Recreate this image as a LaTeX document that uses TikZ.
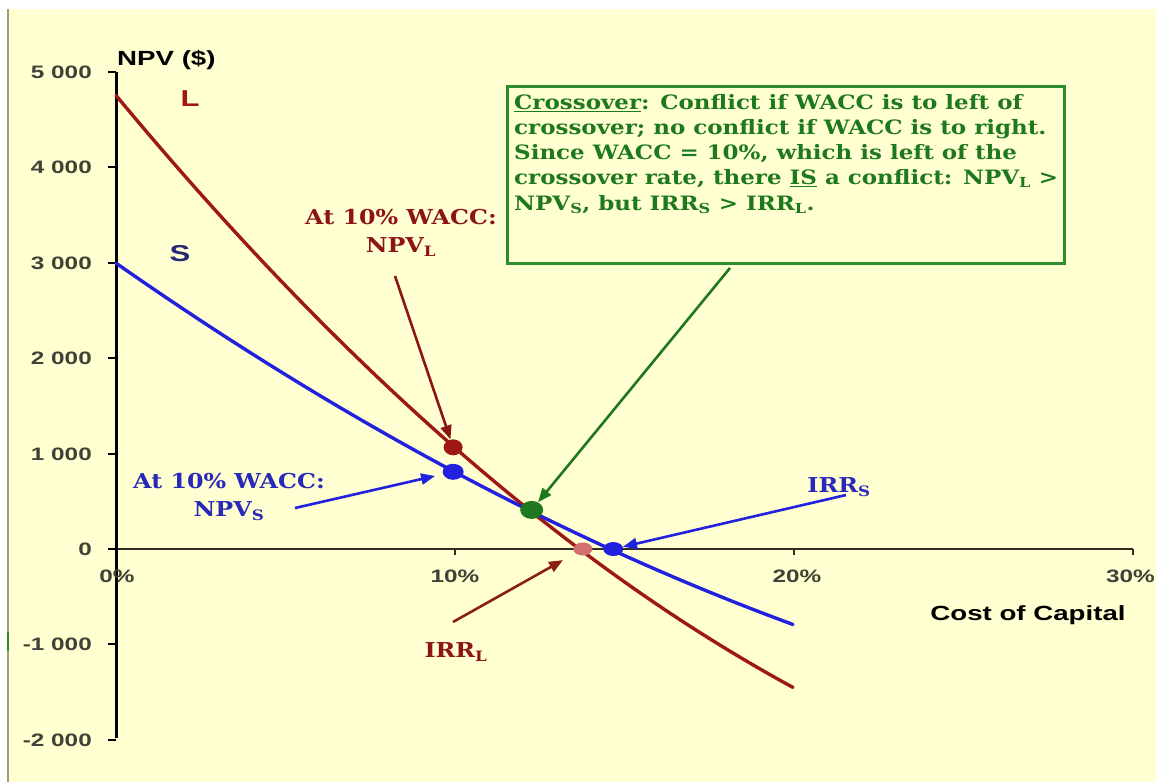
\documentclass[tikz,border=0pt]{standalone}
\usepackage{fontspec}
\setmainfont{DejaVu Serif}
\newfontfamily\axfont[FakeStretch=1.35]{Liberation Sans}
\newfontfamily\notefont[FakeStretch=1.16]{DejaVu Serif}
\usetikzlibrary{arrows.meta,shapes.geometric}
\definecolor{bg}{RGB}{255,255,210}
\definecolor{edge}{RGB}{165,155,120}
\definecolor{lred}{RGB}{158,24,24}
\definecolor{sblue}{RGB}{34,34,222}
\definecolor{tblue}{RGB}{40,40,185}
\definecolor{navy}{RGB}{40,40,120}
\definecolor{tred}{RGB}{140,20,20}
\definecolor{ngreen}{RGB}{30,120,30}
\definecolor{bgreen}{RGB}{45,140,45}
\definecolor{tick}{RGB}{65,65,55}
\definecolor{xaxis}{RGB}{50,45,30}
\definecolor{pink}{RGB}{210,112,112}
\definecolor{irrl}{RGB}{140,30,20}
\tikzset{
  ticklab/.style={font=\axfont\bfseries\fontsize{18}{20}\selectfont, text=tick, anchor=east, inner sep=0pt},
  xlab/.style={font=\axfont\bfseries\fontsize{18}{20}\selectfont, text=tick, inner sep=0pt},
  axtitle/.style={font=\axfont\bfseries\fontsize{20.5}{22}\selectfont, text=black, inner sep=0pt},
  curvelab/.style={font=\axfont\bfseries\fontsize{23}{25}\selectfont, inner sep=0pt},
  annot/.style={font=\notefont\bfseries\fontsize{20.5}{28}\selectfont, align=center, inner sep=0pt},
  curveline/.style={line width=3.4pt, line cap=round},
  dot/.style={ellipse, inner sep=0pt, draw=none},
  pointer/.style={line width=2.6pt, -{Triangle[length=14pt,width=11pt]}},
  notebox/.style={draw=bgreen, line width=2.5pt, fill=bg, inner sep=0pt},
  notetext/.style={font=\notefont\bfseries\fontsize{19.8}{25.2}\selectfont, text=ngreen, align=left, inner sep=0pt},
}
\begin{document}
\begin{tikzpicture}[x=1pt,y=-1pt]
\useasboundingbox (0,0) rectangle (1156,782);
\fill[white] (0,0) rectangle (1156,782);
\fill[bg] (8,9) rectangle (1156,782);
\draw[edge, line width=2pt] (8,9) -- (8,782);
\draw[bgreen, line width=2pt] (8,632) -- (8,651);

% axes
\draw[xaxis, line width=2.6pt] (116,549) -- (1133,549);
\foreach \xx in {455,794,1133} \draw[xaxis, line width=2pt] (\xx,549) -- (\xx,555);
\draw[black, line width=3pt] (116,72) -- (116,738);
\foreach \yy in {72,167,263,358,454,549,644,740} \draw[black, line width=2pt] (108,\yy) -- (116,\yy);

\node[ticklab] (t5) at (92,72) {5 000};
\node[ticklab] (t4) at (92,167) {4 000};
\node[ticklab] (t3) at (92,263) {3 000};
\node[ticklab] (t2) at (92,358) {2 000};
\node[ticklab] (t1) at (92,454) {1 000};
\node[ticklab] (t0) at (92,549) {0};
\node[ticklab] (tm1) at (92,644) {-1 000};
\node[ticklab] (tm2) at (92,740) {-2 000};

\node[xlab] (x0) at (117,576) {0\%};
\node[xlab] (x10) at (455,576) {10\%};
\node[xlab] (x20) at (797,576) {20\%};
\node[xlab, anchor=east] (x30) at (1155,576) {30\%};

\node[axtitle, anchor=west] (ytitle) at (117,60) {NPV (\$)};
\node[axtitle] (xtitle) at (1028,615) {Cost of Capital};

\node[curvelab, text=lred] (Llab) at (190,99) {L};
\node[curvelab, text=navy] (Slab) at (180,254) {S};

% curves and points in data coordinates
\begin{scope}[shift={(116,549)}, x=33.85pt, y=95.3pt]
  \draw[curveline, lred] plot[domain=0:20, samples=80] (\x, {4.76 - 0.4281*\x + 0.00588*\x*\x});
  \draw[curveline, sblue] plot[domain=0:20, samples=80] (\x, {3 - 0.2485*\x + 0.00295*\x*\x});
  \node[dot, fill=lred, minimum width=19pt, minimum height=16pt] (dL) at (9.96,1.067) {};
  \node[dot, fill=sblue, minimum width=21pt, minimum height=16pt] (dS) at (9.96,0.81) {};
  \node[dot, fill=ngreen, minimum width=23pt, minimum height=18pt] (dX) at (12.28,0.41) {};
  \node[dot, fill=pink, minimum width=19pt, minimum height=13pt] (dIL) at (13.79,0) {};
  \node[dot, fill=sblue, minimum width=20pt, minimum height=14pt] (dIS) at (14.69,0) {};
\end{scope}

% labels
\node[annot, text=tred] (labL) at (401,233) {At 10\% WACC:\\NPV\textsubscript{L}};
\node[annot, text=tblue] (labS) at (229,497) {At 10\% WACC:\\NPV\textsubscript{S}};
\node[annot, text=tred] (labIL) at (456,652) {IRR\textsubscript{L}};
\node[annot, text=tblue] (labIS) at (839,487) {IRR\textsubscript{S}};

% note box
\node[notebox, minimum width=557pt, minimum height=177pt, anchor=north west] (box) at (506,85) {};
\node[notetext, anchor=north west] (note) at (514,94) {\underline{Crossover}: Conflict if WACC is to left of\\
crossover; no conflict if WACC is to right.\\
Since WACC = 10\%, which is left of the\\
crossover rate, there \underline{IS} a conflict: NPV\textsubscript{L} >\\
NPV\textsubscript{S}, but IRR\textsubscript{S} > IRR\textsubscript{L}.};

% pointers
\coordinate (pL) at (395,276);
\coordinate (pS) at (295,508);
\coordinate (pX) at (730,268);
\coordinate (pIL) at (453,622);
\coordinate (pIS) at (846,495);
\draw[pointer, tred] (pL) -- (dL);
\draw[pointer, sblue, shorten >=8pt] (pS) -- (dS);
\draw[pointer, ngreen] (pX) -- (dX);
\draw[pointer, irrl, shorten >=14pt] (pIL) -- (dIL);
\draw[pointer, sblue] (pIS) -- (dIS);
\end{tikzpicture}
\end{document}
